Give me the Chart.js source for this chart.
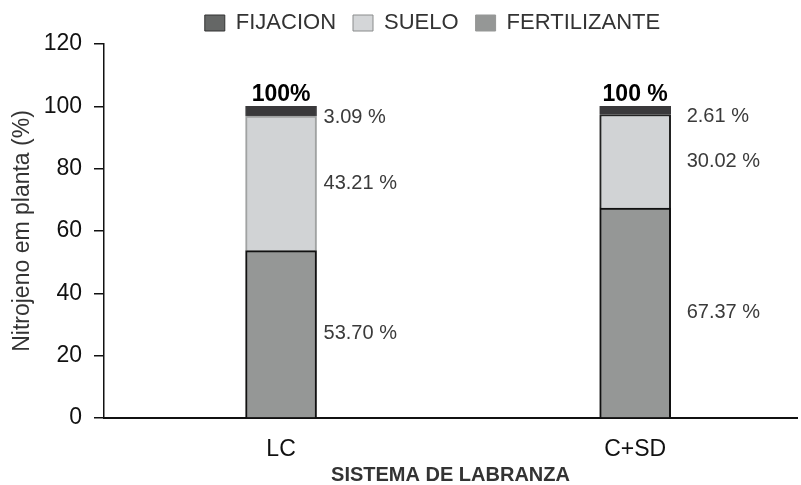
<!DOCTYPE html>
<html>
<head>
<meta charset="utf-8">
<script src="https://cdn.jsdelivr.net/npm/chart.js@4.4.1/dist/chart.umd.min.js"></script>
<style>
  body { margin: 0; background: #fff; }
  #wrap { width: 801px; height: 485px; }
</style>
</head>
<body>
<div id="wrap"><canvas id="grafico" width="801" height="485"></canvas></div>
<script>
const categorias = ['LC', 'C+SD'];
const fertilizante = [53.70, 67.37];
const suelo = [43.21, 30.02];
const fijacion = [3.09, 2.61];
const totales = ['100%', '100 %'];
const ticksY = [0, 20, 40, 60, 80, 100, 120];

const fonte = '"Liberation Sans", Arial, Helvetica, sans-serif';

const pontos = arr => arr.map((v, i) => ({ x: i, y: v }));

// rotulos ao lado das barras e total em cima
const rotulos = {
  id: 'rotulos',
  beforeInit(chart) {
    // legenda: altura fixa e deslocamento para ficar como no original
    const lg = chart.legend;
    const fitOrig = lg.fit;
    lg.fit = function() { fitOrig.call(this); this.height = 44; };
    const drawOrig = lg.draw;
    lg.draw = function() {
      this.ctx.save();
      this.ctx.translate(34, -5);
      drawOrig.call(this);
      this.ctx.restore();
    };
  },
  afterDatasetsDraw(chart, args, opts) {
    const ctx = chart.ctx;
    ctx.save();
    ctx.font = '20px ' + fonte;
    ctx.fillStyle = '#3a3a3a';
    ctx.textAlign = 'left';
    ctx.textBaseline = 'middle';
    const n = chart.data.datasets.length;
    chart.data.datasets.forEach((ds, di) => {
      const meta = chart.getDatasetMeta(di);
      meta.data.forEach((el, i) => {
        const txt = ds.data[i].y.toFixed(2) + ' %';
        const y = di === n - 1 ? el.base + 2 : (el.y + el.base) / 2;
        ctx.fillText(txt, el.x + el.width / 2 + opts.desvioX[i], y);
      });
    });
    const topo = chart.getDatasetMeta(n - 1);
    ctx.font = 'bold 23px ' + fonte;
    ctx.fillStyle = '#000';
    ctx.textAlign = 'center';
    ctx.textBaseline = 'middle';
    topo.data.forEach((el, i) => {
      ctx.fillText(totales[i], el.x, el.y - 12);
    });
    ctx.restore();
  }
};

const cores = { FIJACION: '#656766', SUELO: '#d4d6d8', FERTILIZANTE: '#959796' };
const bordas = { FIJACION: '#333', SUELO: '#8a8c8c', FERTILIZANTE: '#959796' };

const grafico = new Chart(document.getElementById('grafico').getContext('2d'), {
  type: 'bar',
  data: {
    datasets: [
      {
        label: 'FERTILIZANTE',
        data: pontos(fertilizante),
        backgroundColor: '#959796',
        borderColor: '#111',
        borderWidth: 2,
        barThickness: 71
      },
      {
        label: 'SUELO',
        data: pontos(suelo),
        backgroundColor: '#d1d3d5',
        borderColor: ['#a0a2a2', '#222'],
        borderWidth: 2,
        barThickness: 71
      },
      {
        label: 'FIJACION',
        data: pontos(fijacion),
        backgroundColor: '#3a393b',
        borderColor: '#3a393b',
        borderWidth: 1,
        barThickness: 71
      }
    ]
  },
  options: {
    animation: false,
    responsive: false,
    layout: { padding: { left: 0, right: 4, top: 0, bottom: 0 } },
    scales: {
      x: {
        type: 'linear',
        stacked: true,
        offset: false,
        min: -0.5,
        max: 1.457,
        afterBuildTicks: s => { s.ticks = categorias.map((c, i) => ({ value: i })); },
        afterFit: s => { s.height = 67; },
        ticks: {
          callback: v => categorias[v],
          color: '#111',
          font: { family: fonte, size: 23 },
          padding: 18
        },
        grid: { display: false, drawTicks: false },
        border: { display: true, color: '#111', width: 2 },
        title: {
          display: true,
          text: 'SISTEMA DE LABRANZA',
          color: '#333',
          font: { family: fonte, size: 20, weight: 'bold', lineHeight: 1 },
          padding: { top: 0, bottom: 0 }
        }
      },
      y: {
        stacked: true,
        min: 0,
        max: 120,
        afterBuildTicks: s => { s.ticks = ticksY.map(v => ({ value: v })); },
        afterFit: s => { s.width = 104; },
        ticks: {
          color: '#111',
          font: { family: fonte, size: 23 },
          padding: 12
        },
        grid: {
          drawOnChartArea: false,
          drawTicks: true,
          tickLength: 10,
          color: '#111',
          lineWidth: 1.5
        },
        border: { display: true, color: '#111', width: 1.5 },
        title: {
          display: true,
          text: 'Nitrojeno em planta (%)',
          color: '#333',
          font: { family: fonte, size: 23 },
          padding: { top: 9, bottom: 0 }
        }
      }
    },
    plugins: {
      legend: {
        reverse: true,
        labels: {
          color: '#333',
          font: { family: fonte, size: 22 },
          boxWidth: 20,
          boxHeight: 16,
          padding: 17,
          generateLabels: chart => chart.data.datasets.map((ds, i) => ({
            text: ds.label,
            fillStyle: cores[ds.label],
            strokeStyle: bordas[ds.label],
            lineWidth: 1,
            fontColor: '#333',
            datasetIndex: i
          }))
        }
      },
      tooltip: { enabled: false },
      rotulos: { desvioX: [7, 16] }
    }
  },
  plugins: [rotulos]
});
</script>
</body>
</html>
